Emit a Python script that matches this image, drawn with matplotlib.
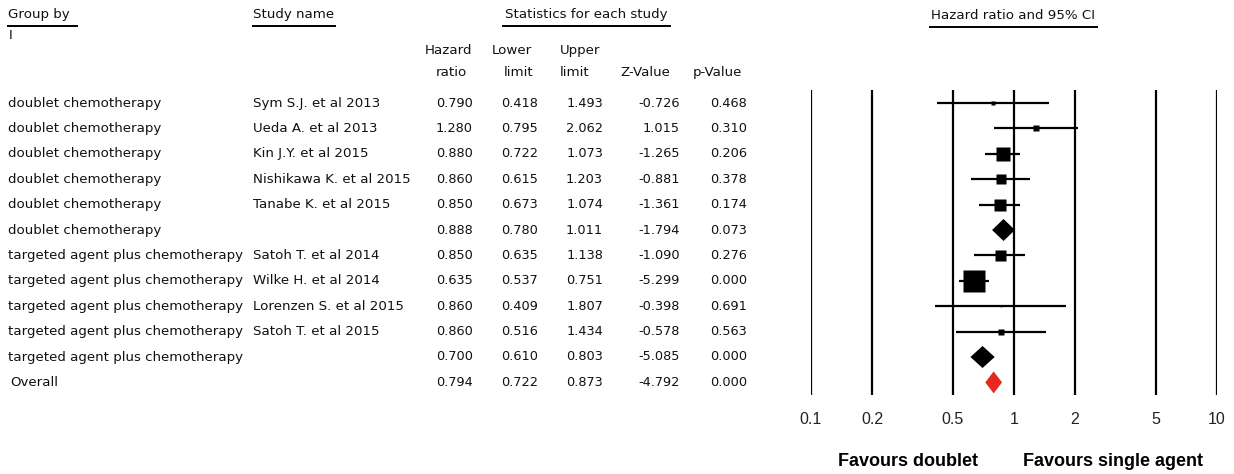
import numpy as np
import matplotlib
matplotlib.use("Agg")
import matplotlib.pyplot as plt

# --- data ---
groups = ["doublet chemotherapy"] * 6 + ["targeted agent plus chemotherapy"] * 5 + ["Overall"]
studies = ["Sym S.J. et al 2013", "Ueda A. et al 2013", "Kin J.Y. et al 2015",
           "Nishikawa K. et al 2015", "Tanabe K. et al 2015", "",
           "Satoh T. et al 2014", "Wilke H. et al 2014", "Lorenzen S. et al 2015",
           "Satoh T. et al 2015", "", ""]
hr = [0.790, 1.280, 0.880, 0.860, 0.850, 0.888, 0.850, 0.635, 0.860, 0.860, 0.700, 0.794]
lower = [0.418, 0.795, 0.722, 0.615, 0.673, 0.780, 0.635, 0.537, 0.409, 0.516, 0.610, 0.722]
upper = [1.493, 2.062, 1.073, 1.203, 1.074, 1.011, 1.138, 0.751, 1.807, 1.434, 0.803, 0.873]
zval = [-0.726, 1.015, -1.265, -0.881, -1.361, -1.794, -1.090, -5.299, -0.398, -0.578, -5.085, -4.792]
pval = [0.468, 0.310, 0.206, 0.378, 0.174, 0.073, 0.276, 0.000, 0.691, 0.563, 0.000, 0.000]
# relative study weight (box size), 0 = summary row
rel_weight = [0.18, 0.27, 0.68, 0.41, 0.59, 0, 0.50, 1.0, 0.08, 0.27, 0, 0]
# kind of row: study, subgroup summary, overall
kind = ["s", "s", "s", "s", "s", "g", "s", "s", "s", "s", "g", "o"]

ticks = [0.1, 0.2, 0.5, 1, 2, 5, 10]
tick_labels = ["0.1", "0.2", "0.5", "1", "2", "5", "10"]

W, H = 1234, 474
row_y = 103 + 25.4 * np.arange(len(hr))

plt.rcParams['font.family'] = ['DejaVu Sans']
fs = 9.6
txt_col = "#111111"

fig = plt.figure(figsize=(W / 100, H / 100), dpi=100)
fig.patch.set_facecolor("white")
ax = fig.add_axes([0, 0, 1, 1])
ax.set_xlim(0, W)
ax.set_ylim(H, 0)
ax.axis("off")

# headers
ax.text(8, 14, "Group by", fontsize=fs, va="center", ha="left", color=txt_col)
ax.plot([8, 77], [26, 26], color="black", lw=1.4)
ax.text(9, 35, "I", fontsize=fs, va="center", ha="left", color=txt_col)
ax.text(253, 14, "Study name", fontsize=fs, va="center", ha="left", color=txt_col)
ax.plot([253, 335], [26, 26], color="black", lw=1.4)
ax.text(586, 14, "Statistics for each study", fontsize=fs, va="center", ha="center", color=txt_col)
ax.plot([503, 670], [26, 26], color="black", lw=1.4)
ax.text(1013, 15, "Hazard ratio and 95% CI", fontsize=fs, va="center", ha="center", color=txt_col)
ax.plot([930, 1097], [27, 27], color="black", lw=1.4)

head_top = ["Hazard", "Lower", "Upper"]
head_bot = ["ratio", "limit", "limit", "Z-Value", "p-Value"]
top_x = [449, 512, 580]
bot_x = [451, 519, 575, 645, 717]
for t, x in zip(head_top, top_x):
    ax.text(x, 50, t, fontsize=fs, va="center", ha="center", color=txt_col)
for t, x in zip(head_bot, bot_x):
    ax.text(x, 72, t, fontsize=fs, va="center", ha="center", color=txt_col)

# table body
col_right = [473, 538, 603, 680, 747]
for i, y in enumerate(row_y):
    ax.text(8 if kind[i] != "o" else 10, y, groups[i], fontsize=fs, va="center", ha="left", color=txt_col)
    ax.text(253, y, studies[i], fontsize=fs, va="center", ha="left", color=txt_col)
    vals = [hr[i], lower[i], upper[i], zval[i], pval[i]]
    for v, x in zip(vals, col_right):
        ax.text(x, y, f"{v:.3f}", fontsize=fs - 0.3, va="center", ha="right", color=txt_col)

# forest plot
fax = fig.add_axes([811 / W, 0, 406 / W, 1])
fax.set_xscale("log")
fax.set_xlim(0.1, 10)
fax.set_ylim(H, 0)
fax.axis("off")

fax.vlines(ticks, 90, 395, color="black", lw=1.6)
for t, lab in zip(ticks, tick_labels):
    fax.text(t, 420, lab, fontsize=11.5, va="center", ha="center",
             family="Liberation Sans", color="#222222")

max_box = 22
for i, y in enumerate(row_y):
    if kind[i] == "s":
        fax.hlines(y, lower[i], upper[i], color="black", lw=1.6)
        side = max_box * rel_weight[i]
        fax.plot(hr[i], y, marker="s", markersize=side * 0.72, color="black", mec="none")
    else:
        col = "black" if kind[i] == "g" else "#e5291f"
        fax.fill([lower[i], hr[i], upper[i], hr[i]], [y, y - 11, y, y + 11],
                 color=col, lw=0)

ax.text(908, 462, "Favours doublet", fontsize=13, weight="bold",
        family="Liberation Sans", va="center", ha="center")
ax.text(1113, 462, "Favours single agent", fontsize=13, weight="bold",
        family="Liberation Sans", va="center", ha="center")

fig.savefig("out.png", dpi=100, facecolor="white")
